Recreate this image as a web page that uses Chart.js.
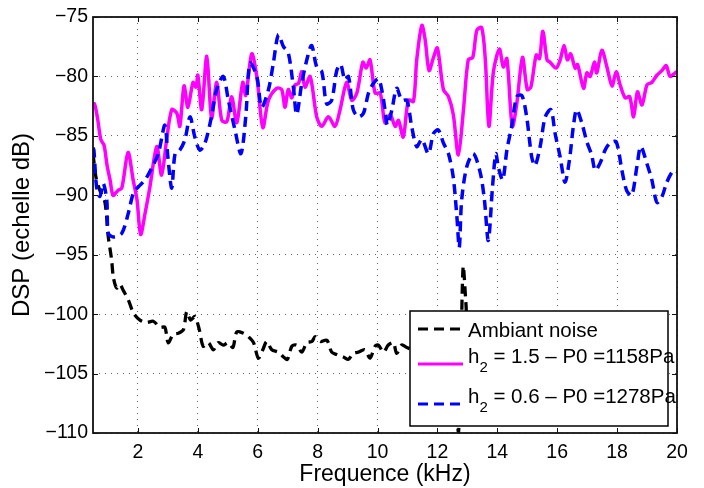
<!DOCTYPE html>
<html>
<head>
<meta charset="utf-8">
<script src="https://cdn.jsdelivr.net/npm/chart.js@4.4.0/dist/chart.umd.min.js"></script>
<style>
  html, body { margin: 0; padding: 0; background: #fff; }
  canvas { display: block; }
</style>
</head>
<body>
<canvas id="dspChart" width="704" height="488"></canvas>
<script>
// frequency axis in kHz, levels in dB
var xTicks = [2, 4, 6, 8, 10, 12, 14, 16, 18, 20];
var yTicks = [-110, -105, -100, -95, -90, -85, -80, -75];

// ambiant noise (black dashed)
var noiseFreq = [0.5, 0.6, 0.73, 0.9, 1.01, 1.12, 1.18, 1.29, 1.4, 1.51, 1.68, 1.85, 2.07, 2.29, 2.51, 2.74, 2.9, 3.01, 3.18, 3.35,
    3.52, 3.63, 3.76, 3.9, 4.05, 4.18, 4.35, 4.52, 4.68, 4.85, 5.02, 5.17, 5.3, 5.52, 5.69, 5.86, 6.02, 6.17, 6.3, 6.47,
    6.69, 6.86, 6.99, 7.14, 7.3, 7.47, 7.64, 7.81, 7.92, 8.09, 8.31, 8.47, 8.64, 8.86, 9.03, 9.19, 9.36, 9.58, 9.75, 9.92,
    10.03, 10.2, 10.36, 10.53, 10.64, 10.81, 10.98, 11.2, 11.5, 11.8, 12.1, 12.4, 12.6, 12.7, 12.78, 12.86, 12.95, 13.05, 13.3];
var noiseDb = [-86.5, -88.5, -89.6, -90.6, -93.5, -95.4, -96.9, -97.8, -97.5, -98.0, -98.8, -99.9, -100.5, -100.7, -100.6, -101.1, -101.1, -102.4, -101.7, -101.6,
    -101.3, -99.8, -100.5, -100.2, -101.3, -102.7, -102.4, -103.0, -102.4, -102.6, -102.4, -102.8, -101.5, -101.6, -101.9, -102.4, -103.7, -103.0, -102.3, -103.0,
    -103.2, -103.6, -103.8, -102.7, -102.6, -103.2, -102.4, -102.3, -101.9, -102.3, -102.2, -103.2, -103.4, -103.6, -103.8, -103.3, -103.2, -103.0, -103.7, -102.7,
    -102.6, -103.2, -102.6, -102.4, -103.3, -102.6, -102.8, -103.0, -102.8, -103.2, -103.0, -103.4, -105.5, -110.0, -104.0, -96.0, -99.0, -102.5, -103.0];

// h2 = 1.5, P0 = 1158 Pa (magenta solid)
var h15Freq = [0.5, 0.55, 0.65, 0.76, 0.87, 0.97, 1.07, 1.17, 1.33, 1.46, 1.67, 1.84, 1.97, 2.09, 2.24, 2.4, 2.63, 2.79, 2.96, 3.13,
    3.3, 3.4, 3.54, 3.67, 3.84, 3.94, 4.0, 4.13, 4.3, 4.46, 4.63, 4.8, 4.97, 5.13, 5.3, 5.5, 5.6, 5.8, 5.97, 6.17,
    6.36, 6.63, 6.8, 6.91, 7.02, 7.14, 7.25, 7.36, 7.47, 7.58, 7.75, 7.97, 8.14, 8.36, 8.58, 8.75, 8.97, 9.14, 9.31, 9.51,
    9.62, 9.75, 9.92, 10.09, 10.25, 10.42, 10.59, 10.7, 10.86, 11.03, 11.2, 11.31, 11.48, 11.59, 11.72, 11.87, 12.0, 12.2, 12.37, 12.53,
    12.7, 12.87, 13.03, 13.18, 13.32, 13.48, 13.6, 13.72, 13.87, 14.07, 14.2, 14.32, 14.5, 14.65, 14.84, 15.0, 15.12, 15.3, 15.41, 15.52,
    15.66, 15.76, 15.96, 16.1, 16.23, 16.34, 16.45, 16.6, 16.68, 16.88, 16.99, 17.1, 17.24, 17.32, 17.49, 17.66, 17.83, 17.97, 18.1, 18.27,
    18.42, 18.55, 18.68, 18.83, 19.0, 19.16, 19.33, 19.5, 19.64, 19.77, 19.94, 20.0];
var h15Db = [-82.4, -82.3, -83.5, -85.3, -85.8, -87.5, -88.7, -90.0, -89.6, -89.4, -86.4, -88.7, -90.4, -93.3, -91.5, -89.3, -85.9, -88.3, -85.3, -82.8,
    -83.1, -84.2, -80.8, -82.6, -80.5, -80.9, -79.9, -82.8, -78.3, -83.5, -80.5, -83.7, -83.8, -81.7, -83.9, -80.5, -81.6, -78.1, -80.0, -84.3,
    -82.0, -81.0, -81.1, -82.6, -81.1, -81.8, -80.7, -80.6, -79.6, -80.9, -80.0, -83.4, -84.2, -83.4, -84.2, -82.8, -80.5, -82.0, -81.4, -78.8,
    -79.3, -78.6, -81.4, -81.4, -83.9, -83.2, -84.2, -83.7, -85.1, -82.0, -82.1, -78.6, -75.7, -76.9, -79.5, -78.4, -77.6, -81.1, -81.7, -83.2,
    -86.6, -82.8, -78.6, -78.4, -76.1, -75.9, -78.6, -84.2, -79.6, -77.7, -79.2, -78.5, -84.2, -82.3, -78.4, -81.1, -80.9, -78.2, -78.5, -76.2,
    -78.6, -78.8, -79.3, -78.6, -77.4, -78.6, -78.1, -79.3, -79.0, -81.0, -79.7, -80.0, -78.8, -79.7, -77.8, -79.2, -80.8, -79.6, -80.7, -81.8,
    -81.7, -83.4, -81.3, -82.4, -80.7, -80.5, -79.9, -79.5, -79.1, -80.0, -79.7, -79.6];

// h2 = 0.6, P0 = 1278 Pa (blue dashed)
var h06Freq = [0.5, 0.53, 0.62, 0.73, 0.84, 0.96, 1.01, 1.18, 1.46, 1.68, 1.85, 2.01, 2.24, 2.46, 2.68, 2.9, 3.0, 3.13, 3.24, 3.4,
    3.57, 3.74, 3.9, 4.07, 4.24, 4.43, 4.63, 4.85, 5.02, 5.24, 5.44, 5.6, 5.74, 5.97, 6.13, 6.36, 6.52, 6.69, 6.86, 7.02,
    7.19, 7.3, 7.47, 7.64, 7.8, 7.97, 8.14, 8.3, 8.47, 8.64, 8.77, 8.91, 9.03, 9.19, 9.36, 9.53, 9.7, 9.86, 10.03, 10.14,
    10.25, 10.33, 10.48, 10.64, 10.81, 10.98, 11.14, 11.31, 11.48, 11.7, 11.87, 12.03, 12.2, 12.37, 12.53, 12.65, 12.73, 12.81, 12.98, 13.2,
    13.43, 13.57, 13.7, 13.84, 13.95, 14.04, 14.18, 14.32, 14.48, 14.65, 14.82, 14.98, 15.15, 15.26, 15.43, 15.6, 15.79, 15.93, 16.1, 16.26,
    16.41, 16.54, 16.65, 16.82, 16.99, 17.15, 17.27, 17.43, 17.6, 17.77, 17.97, 18.16, 18.32, 18.49, 18.66, 18.79, 18.99, 19.16, 19.33, 19.5,
    19.66, 19.88, 20.0];
var h06Db = [-86.0, -86.2, -89.3, -90.1, -89.0, -90.4, -93.2, -93.5, -93.2, -91.5, -89.8, -89.3, -88.7, -87.7, -86.5, -84.1, -86.8, -89.4, -86.5, -86.2,
    -85.3, -83.4, -85.1, -86.2, -85.6, -83.7, -81.1, -80.0, -82.0, -84.5, -86.5, -83.4, -78.9, -80.0, -82.6, -81.1, -78.9, -76.5, -77.5, -78.0,
    -80.9, -83.2, -80.6, -78.6, -77.4, -79.2, -79.6, -82.3, -82.0, -79.5, -79.0, -80.3, -80.0, -82.8, -83.4, -83.1, -81.4, -80.6, -80.2, -81.1,
    -82.8, -84.1, -82.8, -81.0, -82.0, -82.0, -84.2, -85.9, -85.3, -86.5, -84.8, -84.5, -85.6, -86.5, -88.5, -91.8, -94.4, -90.4, -87.6, -86.5,
    -88.1, -90.4, -93.8, -89.3, -86.5, -87.7, -88.7, -86.2, -84.2, -81.7, -81.6, -83.4, -86.8, -87.5, -85.9, -83.4, -82.8, -84.8, -86.8, -88.9,
    -87.0, -84.2, -82.8, -83.9, -85.5, -86.6, -87.9, -87.3, -86.2, -85.6, -85.5, -87.9, -89.6, -90.0, -87.6, -85.9, -87.3, -88.7, -90.6, -90.1,
    -88.9, -87.9, -88.0];

var legendLabels = ['Ambiant noise', 'h|2| = 1.5 \u2013 P0 =1158Pa', 'h|2| = 0.6 \u2013 P0 =1278Pa'];

function toPoints(xs, ys) {
    return xs.map(function (v, i) { return {x: v, y: ys[i]}; });
}

var FONT = '"Liberation Sans", Arial, Helvetica, sans-serif';

// text with a subscript part written as a|b|c
function drawSubText(ctx, txt, x, y, size) {
    var parts = txt.split('|');
    for (var i = 0; i < parts.length; i++) {
        var sub = i % 2 === 1;
        ctx.font = (sub ? Math.round(size * 0.72) : size) + 'px ' + FONT;
        ctx.fillText(parts[i], x, sub ? y + 9 : y);
        x += ctx.measureText(parts[i]).width;
    }
}

var legendBox = {
    id: 'legendBox',
    afterDatasetsDraw: function (chart) {
        var ctx = chart.ctx;
        var L = 410, T = 311, R = 668, B = 426;
        ctx.save();
        ctx.fillStyle = '#fff';
        ctx.fillRect(L, T, R - L, B - T);
        ctx.strokeStyle = '#000';
        ctx.lineWidth = 1.5;
        ctx.strokeRect(L, T, R - L, B - T);
        var rows = [
            {lineY: 329, textY: 337, color: '#000', dash: [10, 6]},
            {lineY: 364, textY: 363, color: '#ff00ff', dash: []},
            {lineY: 404, textY: 403, color: '#0000ff', dash: [10, 6]}
        ];
        rows.forEach(function (r, i) {
            ctx.beginPath();
            ctx.setLineDash(r.dash);
            ctx.strokeStyle = r.color;
            ctx.lineWidth = 3;
            ctx.moveTo(418, r.lineY);
            ctx.lineTo(463, r.lineY);
            ctx.stroke();
            ctx.setLineDash([]);
            ctx.fillStyle = '#000';
            ctx.textBaseline = 'alphabetic';
            ctx.textAlign = 'left';
            drawSubText(ctx, legendLabels[i], 468, r.textY, 20.5);
        });
        ctx.restore();
    }
};

var frame = {
    id: 'frame',
    afterDraw: function (chart) {
        var ctx = chart.ctx, a = chart.chartArea;
        var xs = chart.scales.x, ys = chart.scales.y;
        ctx.save();
        ctx.strokeStyle = '#111';
        ctx.lineWidth = 1;
        ctx.beginPath();
        xTicks.forEach(function (v) {
            var px = Math.round(xs.getPixelForValue(v)) + 0.5;
            ctx.moveTo(px, a.bottom); ctx.lineTo(px, a.bottom - 5);
            ctx.moveTo(px, a.top); ctx.lineTo(px, a.top + 5);
        });
        yTicks.forEach(function (v) {
            var py = Math.round(ys.getPixelForValue(v)) + 0.5;
            ctx.moveTo(a.left, py); ctx.lineTo(a.left + 5, py);
            ctx.moveTo(a.right, py); ctx.lineTo(a.right - 5, py);
        });
        ctx.stroke();
        ctx.lineWidth = 1.8;
        ctx.strokeRect(a.left, a.top, a.right - a.left, a.bottom - a.top);
        ctx.restore();
    }
};

function fixTicks(list) {
    return function (scale) {
        scale.ticks = list.map(function (v) { return {value: v}; });
    };
}

var ctx = document.getElementById('dspChart').getContext('2d');
var dspChart = new Chart(ctx, {
    type: 'line',
    data: {
        datasets: [
            {
                label: legendLabels[0],
                data: toPoints(noiseFreq, noiseDb),
                borderColor: '#000000',
                borderWidth: 3.3,
                borderDash: [10, 6],
                tension: 0.3,
                pointRadius: 0,
                order: 3
            },
            {
                label: legendLabels[1],
                data: toPoints(h15Freq, h15Db),
                borderColor: '#ff00ff',
                borderWidth: 3.5,
                tension: 0.3,
                pointRadius: 0,
                order: 2
            },
            {
                label: legendLabels[2],
                data: toPoints(h06Freq, h06Db),
                borderColor: '#0000ff',
                borderWidth: 3.5,
                borderDash: [10, 6],
                tension: 0.3,
                pointRadius: 0,
                order: 1
            }
        ]
    },
    options: {
        responsive: false,
        animation: false,
        devicePixelRatio: 1,
        layout: {padding: {left: 0, right: 27, top: 17, bottom: 0}},
        plugins: {legend: {display: false}, tooltip: {enabled: false}},
        scales: {
            x: {
                type: 'linear',
                min: 0.5,
                max: 20,
                afterBuildTicks: fixTicks(xTicks),
                afterFit: function (s) { s.height = 55; },
                grid: {color: '#666', lineWidth: 1, drawTicks: false},
                border: {display: false, dash: [1, 5]},
                ticks: {
                    padding: 8,
                    color: '#000',
                    font: {family: FONT, size: 19.5},
                    maxRotation: 0,
                    callback: function (v) { return String(v); }
                },
                title: {
                    display: true,
                    text: 'Frequence (kHz)',
                    color: '#000',
                    font: {family: FONT, size: 23},
                    padding: {top: 2, bottom: 0}
                }
            },
            y: {
                min: -110,
                max: -75,
                afterBuildTicks: fixTicks(yTicks),
                afterFit: function (s) { s.width = 93; },
                grid: {color: '#666', lineWidth: 1, drawTicks: false},
                border: {display: false, dash: [1, 5]},
                ticks: {
                    padding: 5,
                    color: '#000',
                    font: {family: FONT, size: 19.5},
                    callback: function (v) { return String(v).replace('-', '\u2212'); }
                },
                title: {
                    display: true,
                    text: 'DSP (echelle dB)',
                    color: '#000',
                    font: {family: FONT, size: 24},
                    padding: {top: 8, bottom: 0}
                }
            }
        }
    },
    plugins: [legendBox, frame]
});
</script>
</body>
</html>
